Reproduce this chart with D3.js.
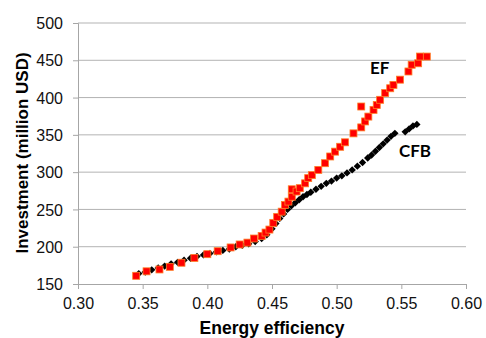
<!DOCTYPE html>
<html>
<head>
<meta charset="utf-8">
<script src="https://cdn.jsdelivr.net/npm/d3@7"></script>
<style>
body { margin: 0; background: #fff; }
</style>
</head>
<body>
<div id="chart"></div>
<script>
// values
const ef_x = [0.345, 0.353, 0.363, 0.371, 0.380, 0.390, 0.400, 0.408, 0.418, 0.425, 0.431, 0.436, 0.442, 0.445, 0.448, 0.451, 0.454, 0.4575, 0.460, 0.4627, 0.4653, 0.4653, 0.469, 0.4715, 0.4756, 0.478, 0.4808, 0.4858, 0.491, 0.495, 0.4988, 0.5027, 0.5065, 0.513, 0.519, 0.519, 0.522, 0.5245, 0.5285, 0.531, 0.5336, 0.5375, 0.5414, 0.5439, 0.549, 0.5555, 0.558, 0.563, 0.5645, 0.5697]
const ef_y = [161, 167, 169.5, 173, 178.5, 185, 190, 194, 199, 203, 205.5, 211, 214.5, 219, 223, 232, 240, 247, 256, 260.5, 267, 277, 274, 278.5, 285, 292, 296, 303, 312, 321, 327.5, 334, 340, 352, 360, 388, 368, 374.5, 383.5, 390, 397, 406, 412.5, 417, 424, 435, 444, 446, 455, 455]

const cfb_x = [0.347, 0.352, 0.357, 0.362, 0.367, 0.372, 0.377, 0.382, 0.387, 0.392, 0.397, 0.402, 0.407, 0.412, 0.417, 0.422, 0.427, 0.432, 0.437, 0.442, 0.446, 0.450, 0.453, 0.456, 0.459, 0.462, 0.465, 0.468, 0.471, 0.474, 0.477, 0.480, 0.484, 0.488, 0.492, 0.496, 0.500, 0.504, 0.508, 0.512, 0.516, 0.520, 0.524, 0.527, 0.530, 0.533, 0.536, 0.539, 0.542, 0.545, 0.553, 0.556, 0.559, 0.562]
const cfb_y = [164, 166, 169, 171.5, 174, 177, 179, 182, 184.5, 187, 189, 191, 193, 195, 197, 200, 202, 204, 207, 211, 216, 224, 231, 238, 244, 250, 255, 259, 263, 267, 270, 273, 277, 281, 285, 288, 292, 295, 299, 303, 308, 313, 319, 323, 328, 333, 338, 343, 348, 352, 354, 358, 362, 364]

const x_ticks = [0.30, 0.35, 0.40, 0.45, 0.50, 0.55, 0.60]
const y_ticks = [150, 200, 250, 300, 350, 400, 450, 500]

const width = 486
const height = 338
const plot_left = 78
const plot_right = 466
const plot_top = 23
const plot_bottom = 284

svg = d3.select("#chart")
	.append("svg")
	.attr("width", width)
	.attr("height", height)

var x = d3.scaleLinear()
	.domain([0.30, 0.60])
	.range([plot_left, plot_right])
var y = d3.scaleLinear()
	.domain([150, 500])
	.range([plot_bottom, plot_top])

// horizontal gridlines
svg.selectAll(".grid")
	.data(y_ticks.slice(1))
	.enter().append("line")
	.attr("class", "grid")
	.attr("x1", plot_left)
	.attr("x2", plot_right)
	.attr("y1", d => y(d))
	.attr("y2", d => y(d))
	.attr("stroke", "#b3b3b3")
	.attr("stroke-width", 1)

var x_axis = svg.append("g")
	.attr("transform", "translate(0," + plot_bottom + ")")
	.call(d3.axisBottom(x).tickValues(x_ticks).tickFormat(d3.format(".2f")).tickSize(5).tickPadding(9))
var y_axis = svg.append("g")
	.attr("transform", "translate(" + plot_left + ",0)")
	.call(d3.axisLeft(y).tickValues(y_ticks).tickSize(5).tickPadding(10))

svg.selectAll(".domain, .tick line")
	.attr("stroke", "#a6a6a6")
svg.selectAll(".tick text")
	.attr("font-family", "Liberation Sans, Arial, sans-serif")
	.attr("font-size", 16)
	.attr("fill", "#111")
y_axis.selectAll(".tick text").attr("dy", "0.35em")

// CFB series, black diamonds
svg.selectAll(".cfb")
	.data(d3.zip(cfb_x, cfb_y))
	.enter().append("rect")
	.attr("class", "cfb")
	.attr("x", -2.6)
	.attr("y", -2.6)
	.attr("width", 5.2)
	.attr("height", 5.2)
	.attr("transform", d => "translate(" + x(d[0]) + "," + y(d[1]) + ") rotate(45)")
	.attr("fill", "#000")

// EF series, red squares
svg.selectAll(".ef")
	.data(d3.zip(ef_x, ef_y))
	.enter().append("rect")
	.attr("class", "ef")
	.attr("x", d => x(d[0]) - 3.5)
	.attr("y", d => y(d[1]) - 3.5)
	.attr("width", 7)
	.attr("height", 7)
	.attr("fill", "#ff0000")
	.attr("stroke", "#ff7f27")
	.attr("stroke-width", 0.8)

// series labels
svg.append("text")
	.attr("x", 370)
	.attr("y", 74)
	.attr("font-family", "Lato, Carlito, sans-serif")
	.attr("font-weight", "bold")
	.attr("font-size", 17)
	.attr("fill", "#000")
	.text("EF")
svg.append("text")
	.attr("x", 399)
	.attr("y", 157)
	.attr("font-family", "Lato, Carlito, sans-serif")
	.attr("font-weight", "bold")
	.attr("font-size", 17)
	.attr("fill", "#000")
	.text("CFB")

// axis titles
svg.append("text")
	.attr("x", 272)
	.attr("y", 334)
	.attr("text-anchor", "middle")
	.attr("font-family", "Liberation Sans, Arial, sans-serif")
	.attr("font-weight", "bold")
	.attr("font-size", 17.5)
	.text("Energy efficiency")
svg.append("text")
	.attr("transform", "translate(28,153) rotate(-90)")
	.attr("text-anchor", "middle")
	.attr("font-family", "Liberation Sans, Arial, sans-serif")
	.attr("font-weight", "bold")
	.attr("font-size", 17)
	.text("Investment (million USD)")
</script>
</body>
</html>
